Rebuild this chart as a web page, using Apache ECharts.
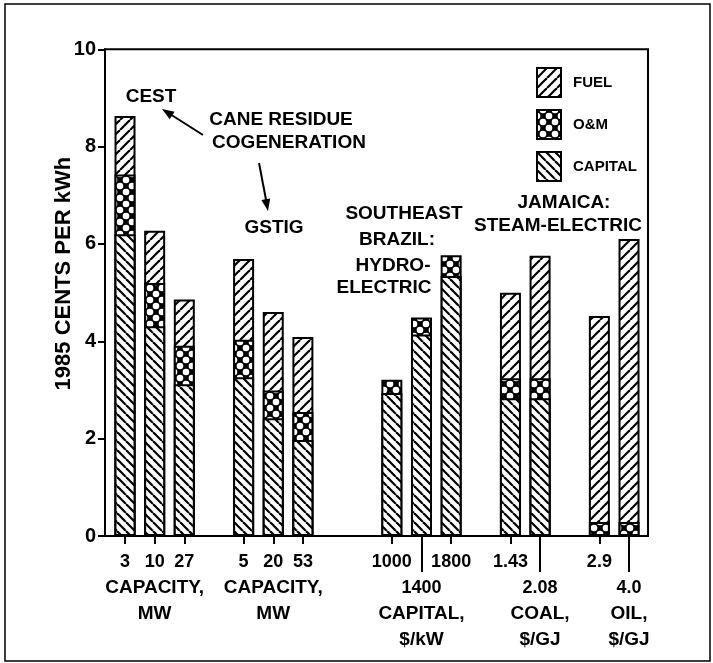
<!DOCTYPE html>
<html>
<head>
<meta charset="utf-8">
<script src="https://cdn.jsdelivr.net/npm/echarts@6/dist/echarts.min.js"></script>
<style>html,body{margin:0;padding:0;background:#fff}#c{width:713px;height:663px}</style>
</head>
<body>
<div id="c"></div>
<script>
// ---- data ----
// tick labels along the x axis; empty strings are the gaps between groups
const categories = ['3','10','27','','5','20','53','','','1000','1400','1800','','1.43','2.08','','2.9','4.0'];
// labels sitting one line lower, with a long tick
const lowLabels = ['1400','2.08','4.0'];
// group titles placed under one label of each group
const groupTitleAt = ['10','20','1400','2.08','4.0'];
const groupTitles = [['CAPACITY,','MW'],['CAPACITY,','MW'],['CAPITAL,','$/kW'],['COAL,','$/GJ'],['OIL,','$/GJ']];
const yTicks = [0,2,4,6,8,10];
// cost components, cents per kWh (one value per non-empty category), bottom to top
const capital = [6.20, 4.31, 3.12, 3.26, 2.42, 1.97, 2.94, 4.14, 5.34, 2.83, 2.83, 0, 0];
const om      = [1.23, 0.89, 0.79, 0.77, 0.57, 0.58, 0.27, 0.35, 0.43, 0.41, 0.41, 0.29, 0.29];
const fuel    = [1.20, 1.07, 0.95, 1.66, 1.61, 1.54, 0, 0, 0, 1.76, 2.52, 4.23, 5.81];

// ---- build ----
const FONT = 'Liberation Sans';
const barX = [];
categories.forEach((c, i) => { if (c !== '') barX.push(i); });
const lowX = barX.filter(i => lowLabels.indexOf(categories[i]) >= 0);
const titleX = groupTitleAt.map(c => categories.indexOf(c));

function mk(size, draw) {
  const cv = document.createElement('canvas');
  cv.width = size; cv.height = size;
  const g = cv.getContext('2d');
  g.fillStyle = '#fff'; g.fillRect(0, 0, size, size);
  draw(g, size);
  return { image: cv, repeat: 'repeat' };
}
const patCapital = mk(9, (g, s) => {
  g.strokeStyle = '#000'; g.lineWidth = 2.2;
  for (let k = -1; k <= 1; k++) { g.beginPath(); g.moveTo(k * s, 0); g.lineTo(k * s + s, s); g.stroke(); }
});
const patFuel = mk(10, (g, s) => {
  g.strokeStyle = '#000'; g.lineWidth = 2.2;
  for (let k = -1; k <= 1; k++) { g.beginPath(); g.moveTo(k * s, s); g.lineTo(k * s + s, 0); g.stroke(); }
});
const patOM = mk(12, (g, s) => {
  g.fillStyle = '#000'; g.fillRect(0, 0, s, s);
  g.fillStyle = '#fff';
  [[s/2,0],[0,s/2],[s,s/2],[s/2,s]].forEach(p => { g.beginPath(); g.arc(p[0], p[1], 3.3, 0, Math.PI * 2); g.fill(); });
});

// cumulative tops of each segment (segments drawn as overlapping bars, top segment behind)
const topCapital = capital.slice();
const topOM = capital.map((c, j) => c + om[j]);
const topFuel = capital.map((c, j) => c + om[j] + fuel[j]);
const layers = [
  { name: 'FUEL', pat: patFuel, tops: topFuel, seg: fuel },
  { name: 'O&M', pat: patOM, tops: topOM, seg: om },
  { name: 'CAPITAL', pat: patCapital, tops: topCapital, seg: capital }
];

function numberLabel(v) {
  const c = categories[Math.round(v)];
  if (!c) return '';
  return (lowLabels.indexOf(c) >= 0 ? '{n| }\n' : '') + '{n|' + c + '}';
}
function titleLabel(v) {
  const c = categories[Math.round(v)];
  const gi = groupTitleAt.indexOf(c);
  if (gi < 0) return '';
  const lines = groupTitles[gi].map(t => '{w|' + t + '}');
  if (lowLabels.indexOf(c) >= 0) lines.unshift('{w| }');
  return lines.join('\n');
}

const series = layers.map((L) => ({
  name: L.name,
  type: 'bar',
  barWidth: 21,
  barGap: '-100%',
  itemStyle: { color: L.pat, borderColor: '#000', borderWidth: 2 },
  emphasis: { disabled: true },
  data: barX.map((x, j) => [x, L.seg[j] > 0 ? +L.tops[j].toFixed(3) : null])
}));

function arrowHead(x1, y1, x2, y2, len, half) {
  const a = Math.atan2(y2 - y1, x2 - x1);
  const bx = x2 - len * Math.cos(a), by = y2 - len * Math.sin(a);
  return [[x2, y2], [bx + half * Math.sin(a), by - half * Math.cos(a)], [bx - half * Math.sin(a), by + half * Math.cos(a)]];
}
function txt(s, x, y, size) {
  return { type: 'text', x: x, y: y, style: { text: s, fill: '#000', font: 'bold ' + (size || 19) + 'px "' + FONT + '"', textAlign: 'center', textVerticalAlign: 'middle' } };
}
const XMIN = -0.675, XMAX = 17.64;
const richN = { n: { fontFamily: FONT, fontWeight: 'bold', fontSize: 18, color: '#000', lineHeight: 26 } };
const richW = { w: { fontFamily: FONT, fontWeight: 'bold', fontSize: 19, color: '#000', lineHeight: 26 } };

const chart = echarts.init(document.getElementById('c'), null, { renderer: 'canvas' });
chart.setOption({
  animation: false,
  backgroundColor: '#fff',
  grid: { left: 105, top: 49.3, width: 543, height: 486.7, show: true, borderColor: '#000', borderWidth: 2, backgroundColor: 'transparent' },
  legend: {
    data: ['FUEL', 'O&M', 'CAPITAL'],
    orient: 'vertical', left: 536, top: 67, padding: 0,
    itemWidth: 24, itemHeight: 29, itemGap: 11,
    selectedMode: false, icon: 'rect',
    itemStyle: { borderColor: '#000', borderWidth: 2 },
    textStyle: { fontFamily: FONT, fontWeight: 'bold', fontSize: 15, color: '#000', padding: [0, 0, 0, 7] }
  },
  xAxis: [{
    type: 'value', min: XMIN, max: XMAX, position: 'bottom',
    splitLine: { show: false },
    axisLine: { show: true, onZero: false, lineStyle: { color: '#000', width: 2 } },
    axisTick: { show: true, customValues: barX, length: 8, lineStyle: { color: '#000', width: 2 } },
    axisLabel: { show: true, customValues: barX, margin: 13, formatter: numberLabel, showMinLabel: true, showMaxLabel: true, rich: richN }
  }, {
    type: 'value', min: XMIN, max: XMAX, position: 'bottom', offset: 0,
    splitLine: { show: false },
    axisLine: { show: false, onZero: false },
    axisLabel: { show: false },
    axisTick: { show: true, customValues: lowX, length: 36, lineStyle: { color: '#000', width: 2 } }
  }, {
    type: 'value', min: XMIN, max: XMAX, position: 'bottom', offset: 0,
    splitLine: { show: false },
    axisLine: { show: false, onZero: false },
    axisTick: { show: false },
    axisLabel: { show: true, customValues: titleX, margin: 39, formatter: titleLabel, showMinLabel: true, showMaxLabel: true, rich: richW }
  }],
  yAxis: {
    type: 'value', min: yTicks[0], max: yTicks[yTicks.length - 1], interval: 2,
    name: '1985 CENTS PER kWh', nameLocation: 'middle', nameRotate: 90, nameGap: 30, nameMoveOverlap: false,
    nameTextStyle: { fontFamily: FONT, fontWeight: 'bold', fontSize: 22, color: '#000', padding: [0, 0, 0, 38] },
    splitLine: { show: false },
    axisLine: { show: true, onZero: false, lineStyle: { color: '#000', width: 2 } },
    axisTick: { show: true, length: 7, lineStyle: { color: '#000', width: 2 } },
    axisLabel: { margin: 9, fontFamily: FONT, fontWeight: 'bold', fontSize: 20, color: '#000' }
  },
  series: series,
  graphic: [
    { type: 'rect', shape: { x: 5, y: 4, width: 705, height: 657 }, style: { fill: 'none', stroke: '#000', lineWidth: 1.5 }, silent: true, z: -1 },
    txt('CEST', 151, 97),
    txt('CANE RESIDUE', 281, 120),
    txt('COGENERATION', 289, 143),
    txt('GSTIG', 274, 228),
    txt('SOUTHEAST', 404, 214),
    txt('BRAZIL:', 397, 240),
    txt('HYDRO-', 393, 266),
    txt('ELECTRIC', 384, 288),
    txt('JAMAICA:', 564, 203),
    txt('STEAM-ELECTRIC', 558, 226),
    { type: 'line', shape: { x1: 203, y1: 135, x2: 166, y2: 111.5 }, style: { stroke: '#000', lineWidth: 2 } },
    { type: 'polygon', shape: { points: arrowHead(203, 135, 162, 109, 12, 4.5) }, style: { fill: '#000' } },
    { type: 'line', shape: { x1: 259, y1: 163, x2: 267, y2: 205 }, style: { stroke: '#000', lineWidth: 2 } },
    { type: 'polygon', shape: { points: arrowHead(259, 163, 268, 211, 12, 4.5) }, style: { fill: '#000' } }
  ]
});
</script>
</body>
</html>
